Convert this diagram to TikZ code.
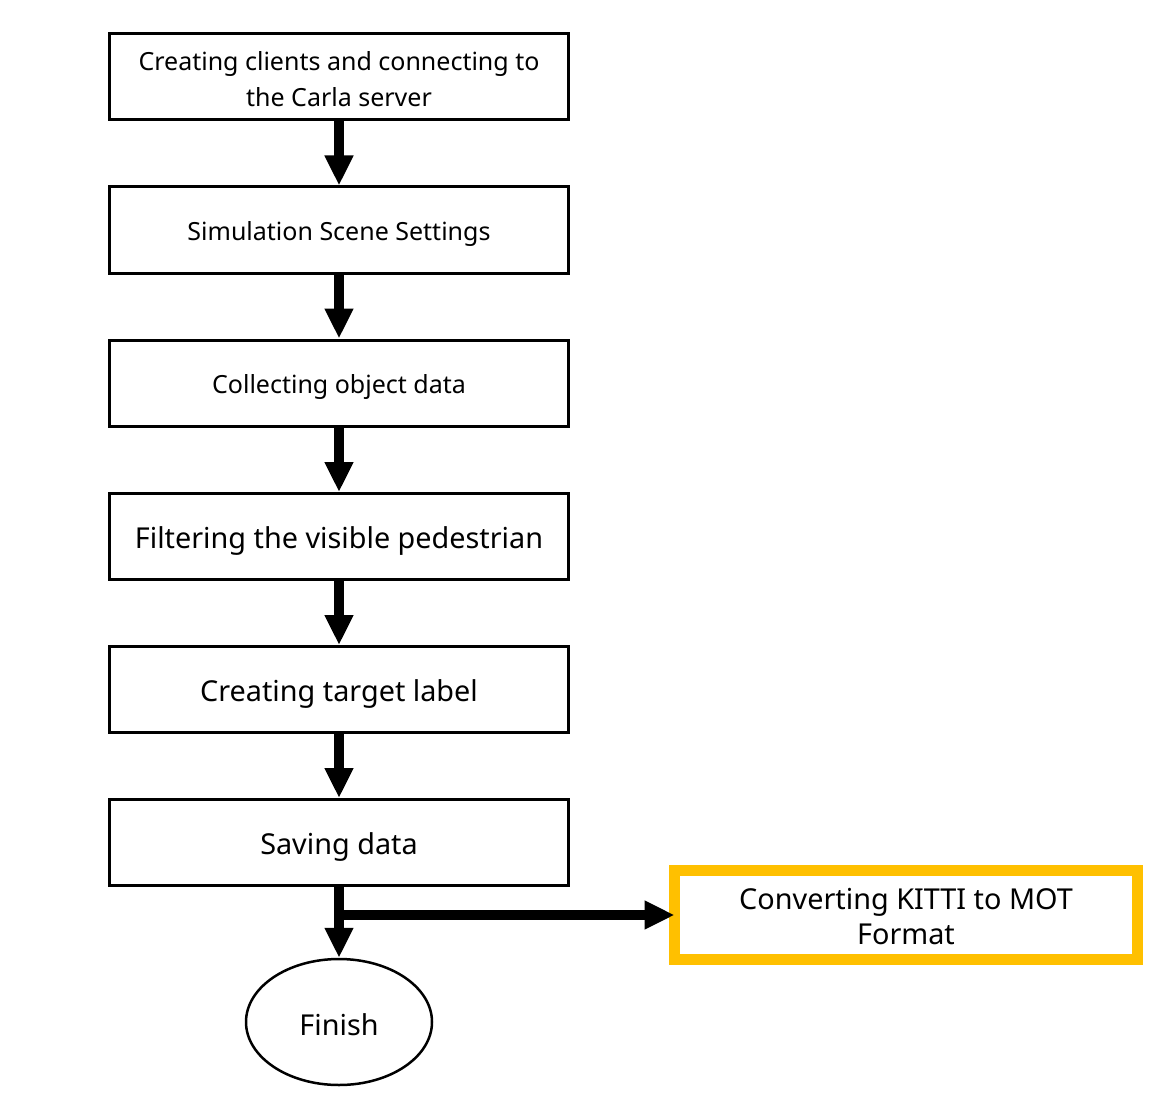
\documentclass[tikz,border=0pt]{standalone}
\usepackage{fontspec}
\setmainfont{Noto Sans}
\usetikzlibrary{arrows.meta,shapes.geometric}
\definecolor{kitti}{HTML}{FFC000}
\tikzset{
  stepbox/.style={draw=black, line width=3pt, rectangle, minimum width=459pt, minimum height=86pt, inner sep=0pt},
  smalltxt/.style={font=\fontsize{25}{36}\selectfont, align=center, inner sep=0pt},
  bigtxt/.style={font=\fontsize{28.8}{35}\selectfont, align=center, inner sep=0pt},
  flow/.style={line width=10pt, -{Triangle[width=27pt,length=30pt]}},
}
\begin{document}
\begin{tikzpicture}[x=1pt,y=-1pt]
\useasboundingbox (0,0) rectangle (1169,1107);
\node[stepbox, label={[smalltxt,yshift=-2.5pt]center:Creating clients and connecting to\\the Carla server}] (b1) at (339,76.5) {};
\node[stepbox, label={[smalltxt,yshift=-4pt]center:Simulation Scene Settings}] (b2) at (339,230) {};
\node[stepbox, label={[smalltxt,yshift=-4pt]center:Collecting object data}] (b3) at (339,383) {};
\node[stepbox, label={[bigtxt,yshift=-5pt]center:Filtering the visible pedestrian}] (b4) at (339,536.5) {};
\node[stepbox, label={[bigtxt,yshift=-5pt]center:Creating target label}] (b5) at (339,689.5) {};
\node[stepbox, label={[bigtxt,yshift=-5pt]center:Saving data}] (b6) at (339,842.5) {};
\node[draw=black, line width=2.5pt, ellipse, minimum width=186pt, minimum height=126pt, inner sep=0pt,
      label={[bigtxt,yshift=-3pt]center:Finish}] (fin) at (339,1022) {};
\node[draw=kitti, line width=11pt, rectangle, minimum width=463pt, minimum height=89pt, inner sep=0pt,
      label={[bigtxt,yshift=-2pt]center:Converting KITTI to MOT\\Format}] (kt) at (906,915) {};
\coordinate (br) at (b6.south |- kt.west);
\draw[flow] (b1.south) -- (b2.north);
\draw[flow] (b2.south) -- (b3.north);
\draw[flow] (b3.south) -- (b4.north);
\draw[flow] (b4.south) -- (b5.north);
\draw[flow] (b5.south) -- (b6.north);
\draw[flow] (b6.south) -- (fin.north);
\draw[flow, shorten >=-5.5pt] ([xshift=-5pt]br) -- (kt.west);
\end{tikzpicture}
\end{document}
